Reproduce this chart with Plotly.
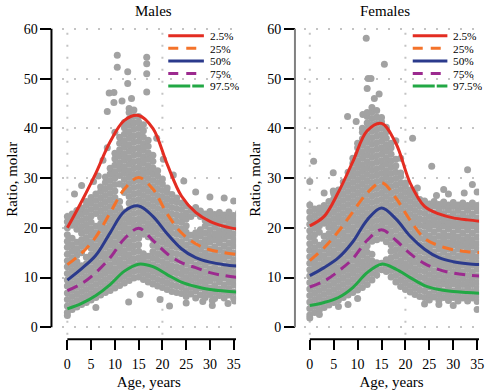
import plotly.graph_objects as go

# ---------------- data ----------------
curve_ages = [0, 3, 6, 9, 12, 15, 18, 21, 24, 27, 30, 33, 36]
series_names = ["2.5%", "25%", "50%", "75%", "97.5%"]
series_colors = ["#e32d22", "#f4732a", "#2b3a8c", "#9c2a8f", "#22a845"]
series_dash = ["solid", "11px,7px", "solid", "11px,7px", "solid"]
legend_dash = ["solid", "10px,8px", "solid", "10px,8px", "22px,2px"]

male_p025 = [20.0, 25.3, 31.0, 37.3, 41.6, 42.6, 40.0, 32.8, 26.4, 23.1, 21.3, 20.3, 19.7]
male_p25 = [12.6, 14.9, 18.2, 23.0, 27.8, 30.1, 27.8, 22.8, 19.0, 16.8, 15.6, 15.0, 14.6]
male_p50 = [9.5, 11.8, 14.5, 19.0, 23.3, 24.4, 22.3, 18.8, 15.8, 14.0, 13.1, 12.6, 12.3]
male_p75 = [7.4, 8.8, 11.0, 14.0, 17.8, 19.9, 17.5, 14.8, 13.0, 12.0, 11.0, 10.4, 10.0]
male_p975 = [3.7, 4.8, 6.4, 8.6, 11.3, 12.7, 12.2, 10.6, 9.1, 8.2, 7.6, 7.3, 7.1]

female_p025 = [20.4, 22.3, 27.2, 33.3, 39.5, 41.0, 37.0, 29.0, 24.3, 22.8, 22.0, 21.6, 21.3]
female_p25 = [13.4, 16.0, 19.3, 23.2, 27.0, 29.1, 26.0, 21.5, 17.9, 16.4, 15.6, 15.2, 15.0]
female_p50 = [10.4, 12.0, 14.0, 17.2, 21.6, 24.0, 21.8, 18.3, 15.7, 14.0, 13.2, 12.8, 12.6]
female_p75 = [8.1, 9.3, 11.3, 13.8, 17.5, 19.6, 17.5, 14.8, 12.8, 11.6, 10.9, 10.5, 10.3]
female_p975 = [4.4, 5.0, 6.0, 8.0, 11.0, 12.7, 11.7, 10.0, 8.4, 7.6, 7.2, 7.0, 6.8]

# scatter: observations grouped by age (years)
scatter_ages = list(range(0, 37))
male_obs = [
    [3.0, 4.3, 5.6, 6.9, 8.3, 9.5, 10.8, 12.2, 13.4, 14.7, 16.1, 17.3, 18.6, 20.0, 21.2, 22.3],
    [3.6, 4.9, 6.2, 7.5, 8.8, 10.1, 11.4, 12.7, 14.0, 15.3, 16.6, 17.9, 20.5, 21.8, 22.8],
    [4.1, 5.4, 6.7, 8.0, 9.3, 10.6, 11.9, 13.2, 14.5, 15.8, 17.1, 19.7, 21.0, 22.3, 23.5],
    [4.6, 5.9, 7.2, 8.5, 9.8, 11.1, 12.4, 15.0, 16.3, 17.6, 18.9, 20.2, 21.5, 22.8, 24.0],
    [5.0, 6.3, 7.6, 8.9, 10.2, 11.5, 12.8, 14.1, 16.7, 18.0, 19.3, 20.6, 21.9, 23.2, 24.5, 25.3],
    [5.5, 6.8, 8.1, 9.4, 10.7, 12.0, 13.3, 14.6, 15.9, 17.2, 18.5, 19.8, 21.1, 22.4, 23.7, 25.0, 26.1],
    [6.0, 7.3, 8.6, 9.9, 11.2, 12.5, 13.8, 15.1, 16.4, 17.7, 19.0, 20.3, 22.9, 24.2, 25.5, 26.8],
    [6.5, 7.8, 9.1, 10.4, 11.7, 13.0, 14.3, 15.6, 16.9, 18.2, 19.5, 20.8, 22.1, 23.4, 24.7, 26.0, 27.3, 28.2],
    [7.0, 8.3, 9.6, 10.9, 12.2, 13.5, 14.8, 16.1, 17.4, 18.7, 20.0, 21.3, 22.6, 23.9, 25.2, 26.5, 27.8, 29.1, 30.2],
    [7.4, 8.7, 10.0, 11.3, 12.6, 13.9, 15.2, 16.5, 17.8, 19.1, 20.4, 21.7, 23.0, 24.3, 25.6, 26.9, 28.2, 29.5, 30.8, 32.0],
    [7.9, 9.2, 10.5, 11.8, 13.1, 14.4, 15.7, 17.0, 18.3, 19.6, 20.9, 22.2, 23.5, 24.8, 26.1, 27.4, 28.7, 30.0, 31.3, 32.6, 33.9, 35.0],
    [8.4, 9.7, 11.0, 12.3, 13.6, 14.9, 16.2, 17.5, 18.8, 20.1, 21.4, 22.7, 24.0, 25.3, 28.8, 30.5, 31.8, 33.1, 34.4, 35.7, 37.0, 38.2],
    [8.9, 10.2, 11.5, 12.8, 14.1, 15.4, 16.7, 18.0, 19.3, 20.6, 21.9, 23.2, 27.1, 28.4, 29.7, 31.0, 32.3, 33.6, 34.9, 36.2, 37.5, 38.8, 40.1, 41.2],
    [9.4, 10.7, 12.0, 13.3, 14.6, 15.9, 17.2, 18.5, 19.8, 21.1, 22.4, 23.7, 25.0, 26.3, 27.6, 28.9, 30.2, 31.5, 32.8, 34.1, 35.4, 36.7, 38.0, 39.3, 40.6, 41.9, 43.2, 44.0],
    [9.9, 11.2, 12.5, 13.8, 15.1, 16.4, 17.7, 19.0, 20.3, 21.6, 22.9, 24.2, 25.5, 26.8, 28.1, 29.4, 30.7, 32.0, 33.3, 34.6, 35.9, 37.2, 38.5, 39.8, 41.1, 42.4, 43.7],
    [10.1, 11.4, 12.7, 14.0, 15.3, 16.6, 17.9, 19.2, 20.5, 21.8, 23.1, 24.4, 25.7, 27.0, 28.3, 29.6, 30.9, 32.2, 33.5, 34.8, 36.1, 37.4, 38.7, 40.0, 41.3, 42.4],
    [9.6, 10.9, 12.2, 13.5, 14.8, 18.7, 20.0, 21.3, 22.6, 23.9, 25.2, 26.5, 27.8, 29.1, 30.4, 31.7, 33.0, 34.3, 35.6, 36.9, 38.2, 39.5, 40.7],
    [9.1, 10.4, 11.7, 13.0, 14.3, 18.2, 19.5, 20.8, 22.1, 23.4, 24.7, 26.0, 27.3, 28.6, 29.9, 31.2, 32.5, 33.8, 35.1, 36.4, 37.6],
    [8.7, 10.0, 11.3, 12.6, 13.9, 15.2, 16.5, 17.8, 19.1, 20.4, 21.7, 23.0, 24.3, 25.6, 26.9, 28.2, 29.5, 30.8, 32.1, 33.4, 34.6],
    [8.3, 9.6, 10.9, 12.2, 13.5, 14.8, 16.1, 17.4, 18.7, 20.0, 21.3, 22.6, 23.9, 25.2, 26.5, 27.8, 29.1, 30.4, 31.5],
    [8.0, 9.3, 10.6, 11.9, 13.2, 14.5, 15.8, 17.1, 18.4, 19.7, 21.0, 22.3, 23.6, 24.9, 26.2, 27.5, 28.8, 29.8],
    [7.6, 8.9, 10.2, 11.5, 12.8, 14.1, 15.4, 16.7, 18.0, 19.3, 20.6, 21.9, 23.2, 24.5, 25.8, 27.1, 28.0],
    [7.2, 8.5, 9.8, 11.1, 12.4, 13.7, 15.0, 16.3, 17.6, 18.9, 20.2, 21.5, 22.8, 24.1, 25.4, 26.7],
    [7.0, 8.3, 9.6, 10.9, 12.2, 13.5, 14.8, 16.1, 17.4, 18.7, 20.0, 21.3, 22.6, 23.9, 25.2, 26.0],
    [6.8, 8.1, 9.4, 10.7, 12.0, 13.3, 14.6, 15.9, 17.2, 18.5, 19.8, 21.1, 22.4, 23.7, 25.0],
    [6.2, 7.4, 8.8, 10.0, 11.3, 12.7, 13.9, 15.2, 16.5, 17.9, 19.1, 20.4, 21.8, 23.0, 24.4],
    [6.7, 8.0, 9.4, 10.6, 11.9, 13.3, 14.5, 15.8, 17.1, 18.5, 22.3, 23.6],
    [5.9, 7.3, 8.6, 9.9, 11.2, 12.5, 13.9, 15.1, 16.4, 17.8, 19.0, 22.9, 24.1],
    [6.5, 7.9, 9.2, 10.5, 11.8, 13.1, 14.4, 15.7, 17.0, 18.4, 19.6, 22.3, 23.4],
    [6.0, 7.2, 8.6, 9.8, 11.1, 12.5, 13.7, 15.0, 16.4, 17.6, 18.9, 20.3, 21.5, 22.8],
    [6.6, 7.9, 9.3, 10.5, 11.8, 13.2, 14.4, 15.7, 17.1, 18.3, 19.6, 21.0, 22.2, 23.3],
    [5.8, 7.1, 8.4, 9.8, 11.0, 12.3, 13.7, 14.9, 16.2, 17.6, 18.8, 20.1, 21.5, 22.7],
    [6.4, 7.7, 9.1, 10.3, 11.6, 13.0, 14.2, 15.5, 16.9, 18.1, 19.4, 20.8, 22.0, 23.1],
    [5.9, 7.2, 8.5, 9.9, 11.1, 12.4, 13.8, 15.0, 16.3, 17.7, 18.9, 20.2, 21.6, 22.6],
    [6.5, 7.8, 9.1, 10.4, 11.7, 13.0, 14.4, 15.6, 16.9, 18.3, 19.5, 20.8, 22.1, 23.2],
    [5.8, 7.1, 8.5, 9.7, 11.0, 12.4, 13.6, 14.9, 16.3, 17.5, 18.8, 20.2, 21.4, 22.5],
    [6.3, 7.6, 8.9, 10.2, 11.5, 12.8, 14.1, 15.4, 16.7, 18.0, 19.3, 20.6, 21.9, 23.0],
]
male_extra_age = [0.0, 1.5, 3.0, 5.5, 6.5, 7.5, 8.4, 8.8, 9.8, 9.8, 8.4, 10.5, 10.5, 12.7, 12.7,
                  16.7, 16.7, 16.7, 16.7, 12.9, 15.3, 18.8, 20.2, 22.3, 24.5, 27.0, 33.0, 35.0,
                  30.0, 28.5, 30.5, 30.5, 33.8, 35.2, 21.5, 25.0, 19.5, 11.5, 13.5, 6.0, 10.0]
male_extra_val = [2.4, 26.8, 28.5, 29.3, 30.4, 33.6, 36.1, 47.1, 47.2, 45.2, 43.4, 54.7, 52.3, 51.4, 49.0,
                  54.3, 53.0, 51.0, 47.3, 5.1, 6.6, 38.0, 33.8, 30.6, 29.4, 27.2, 26.0, 25.4,
                  26.2, 5.2, 5.4, 4.4, 4.8, 5.3, 4.3, 4.9, 5.6, 45.5, 46.0, 4.0, 39.2]

female_obs = [
    [2.5, 3.8, 5.1, 6.4, 7.7, 9.0, 10.3, 11.6, 12.9, 14.2, 15.5, 16.8, 18.1, 19.4, 20.7, 22.0, 23.3, 24.6],
    [3.0, 4.3, 5.6, 6.9, 8.2, 9.5, 10.8, 12.1, 13.4, 14.7, 16.0, 17.3, 18.6, 19.9, 21.2, 22.5, 23.8],
    [3.5, 4.8, 6.1, 7.4, 8.7, 10.0, 11.3, 12.6, 13.9, 15.2, 16.5, 19.1, 20.4, 21.7, 23.0, 24.0],
    [4.0, 5.3, 6.6, 7.9, 9.2, 10.5, 11.8, 13.1, 14.4, 15.7, 17.0, 18.3, 20.9, 22.2, 23.5, 24.5],
    [4.5, 5.8, 7.1, 8.4, 9.7, 11.0, 12.3, 13.6, 14.9, 16.2, 17.5, 18.8, 20.1, 21.4, 22.7, 24.0, 25.3],
    [5.0, 6.3, 7.6, 8.9, 10.2, 11.5, 12.8, 14.1, 15.4, 16.7, 18.0, 19.3, 20.6, 21.9, 23.2, 24.5, 25.8, 26.9],
    [5.5, 6.8, 8.1, 9.4, 10.7, 12.0, 13.3, 14.6, 15.9, 17.2, 18.5, 19.8, 21.1, 22.4, 23.7, 25.0, 26.3, 27.6],
    [6.0, 7.3, 8.6, 9.9, 11.2, 12.5, 13.8, 15.1, 16.4, 17.7, 19.0, 20.3, 21.6, 22.9, 24.2, 25.5, 26.8, 28.1, 29.2],
    [6.5, 7.8, 9.1, 10.4, 11.7, 13.0, 14.3, 15.6, 16.9, 18.2, 19.5, 20.8, 22.1, 23.4, 24.7, 26.0, 27.3, 28.6, 29.9, 31.2],
    [7.0, 8.3, 9.6, 10.9, 12.2, 13.5, 14.8, 16.1, 17.4, 18.7, 20.0, 21.3, 22.6, 23.9, 25.2, 26.5, 27.8, 29.1, 30.4, 31.7, 33.0, 34.0],
    [7.5, 8.8, 10.1, 11.4, 12.7, 14.0, 15.3, 16.6, 17.9, 19.2, 20.5, 21.8, 23.1, 24.4, 25.7, 27.0, 28.3, 29.6, 30.9, 32.2, 33.5, 34.8, 36.1, 37.0],
    [8.0, 9.3, 10.6, 11.9, 13.2, 14.5, 15.8, 17.1, 18.4, 19.7, 21.0, 22.3, 23.6, 24.9, 26.2, 27.5, 28.8, 30.1, 31.4, 32.7, 34.0, 35.3, 36.6, 37.9, 39.2, 40.0],
    [8.6, 9.9, 11.2, 12.5, 13.8, 15.1, 16.4, 17.7, 19.0, 20.3, 21.6, 22.9, 24.2, 25.5, 26.8, 28.1, 29.4, 30.7, 32.0, 33.3, 34.6, 35.9, 37.2, 38.5, 39.8, 41.1, 42.4, 43.2],
    [9.5, 10.8, 12.1, 13.4, 14.7, 17.3, 18.6, 19.9, 21.2, 22.5, 23.8, 25.1, 26.4, 27.7, 29.0, 30.3, 31.6, 32.9, 34.2, 35.5, 36.8, 38.1, 39.4, 40.7, 42.0, 43.3, 44.2],
    [10.5, 11.8, 13.0, 17.6, 18.9, 20.2, 21.5, 22.8, 24.1, 25.4, 26.7, 28.0, 29.3, 30.6, 31.9, 33.2, 34.5, 35.8, 37.1, 38.4, 39.7, 41.0, 42.3, 43.6],
    [11.6, 12.9, 17.9, 19.2, 20.5, 21.8, 23.1, 24.4, 25.7, 27.0, 28.3, 29.6, 30.9, 32.2, 33.5, 34.8, 36.1, 37.4, 38.7, 40.0, 41.3, 42.2],
    [11.2, 12.5, 13.6, 17.2, 18.5, 19.8, 21.1, 22.4, 23.7, 25.0, 26.3, 27.6, 28.9, 30.2, 31.5, 32.8, 34.1, 35.4, 36.7, 38.0, 39.3, 40.2],
    [10.1, 11.4, 12.7, 14.0, 15.3, 16.6, 17.9, 19.2, 20.5, 21.8, 23.1, 24.4, 25.7, 27.0, 28.3, 29.6, 30.9, 32.2, 33.5, 34.8, 36.1, 37.0],
    [9.1, 10.4, 11.7, 13.0, 14.3, 15.6, 16.9, 18.2, 19.5, 20.8, 22.1, 23.4, 24.7, 26.0, 27.3, 28.6, 29.9, 31.2, 32.5, 33.8],
    [8.2, 9.5, 10.8, 12.1, 13.4, 14.7, 16.0, 17.3, 18.6, 19.9, 21.2, 22.5, 23.8, 25.1, 26.4, 27.7, 29.0, 30.3, 31.0],
    [7.6, 8.9, 10.2, 11.5, 12.8, 14.1, 15.4, 16.7, 18.0, 19.3, 20.6, 21.9, 23.2, 24.5, 25.8, 27.1, 28.4, 29.0],
    [7.1, 8.4, 9.7, 11.0, 12.3, 13.6, 14.9, 16.2, 17.5, 18.8, 20.1, 21.4, 22.7, 24.0, 25.3, 26.6, 27.6],
    [6.6, 7.9, 9.2, 10.5, 11.8, 13.1, 14.4, 15.7, 17.0, 18.3, 19.6, 20.9, 22.2, 23.5, 24.8, 26.1, 26.8],
    [6.2, 7.5, 8.8, 10.1, 11.4, 12.7, 14.0, 15.3, 16.6, 17.9, 19.2, 20.5, 21.8, 23.1, 24.4, 25.7],
    [6.0, 7.3, 8.6, 9.9, 11.2, 12.5, 13.8, 15.1, 16.4, 17.7, 19.0, 20.3, 21.6, 22.9, 24.2, 25.4],
    [5.5, 6.7, 8.1, 9.3, 10.6, 12.0, 13.2, 14.5, 15.9, 17.1, 18.4, 19.8, 21.0, 22.3, 23.7, 24.8],
    [6.1, 7.4, 8.8, 10.0, 11.3, 12.7, 13.9, 15.2, 16.6, 17.8, 19.1, 20.5, 21.7, 23.0, 24.4, 25.3],
    [5.4, 6.6, 8.0, 9.2, 10.5, 11.9, 13.1, 14.4, 15.8, 17.0, 18.3, 19.7, 20.9, 22.2, 23.6, 24.7],
    [6.0, 7.3, 8.7, 9.9, 11.2, 12.6, 13.8, 15.1, 16.5, 17.7, 19.0, 20.4, 21.6, 22.9, 24.3, 25.2],
    [5.4, 6.6, 8.0, 9.2, 10.5, 11.9, 13.1, 14.4, 15.8, 17.0, 18.3, 19.7, 20.9, 22.2, 23.6, 24.6],
    [6.0, 7.3, 8.7, 9.9, 11.2, 12.6, 13.8, 15.1, 16.5, 17.7, 19.0, 20.4, 21.6, 22.9, 24.3, 25.1],
    [5.3, 6.5, 7.9, 9.1, 10.4, 11.8, 13.0, 14.3, 15.7, 16.9, 18.2, 19.6, 20.8, 22.1, 23.5, 24.6],
    [5.9, 7.2, 8.6, 9.8, 11.1, 12.5, 13.7, 15.0, 16.4, 17.6, 18.9, 20.3, 21.5, 22.8, 24.2, 25.0],
    [5.3, 6.5, 7.9, 9.1, 10.4, 11.8, 13.0, 14.3, 15.7, 16.9, 18.2, 19.6, 20.8, 22.1, 23.5, 24.5],
    [5.9, 7.2, 8.6, 9.8, 11.1, 12.5, 13.7, 15.0, 16.4, 17.6, 18.9, 20.3, 21.5, 22.8, 24.2, 25.0],
    [5.2, 6.4, 7.8, 9.0, 10.3, 11.7, 12.9, 14.2, 15.6, 16.8, 18.1, 19.5, 20.7, 22.0, 23.4, 24.5],
    [5.8, 7.1, 8.5, 9.7, 11.0, 12.4, 13.6, 14.9, 16.3, 17.5, 18.8, 20.2, 21.4, 22.7, 24.1, 25.0],
]
female_extra_age = [0.0, 0.8, 4.9, 4.9, 3.0, 7.9, 9.7, 11.1, 11.8, 15.6, 12.2, 12.8, 12.0, 14.5, 13.5,
                    21.5, 25.5, 33.0, 34.0, 35.0, 28.0, 29.0, 19.0, 18.0, 0.0, 6.0, 8.0, 10.0, 24.0,
                    30.0, 35.0, 32.3, 28.0, 26.5, 22.5, 2.0, 27.0]
female_extra_val = [29.3, 33.4, 27.4, 31.1, 27.0, 42.4, 41.4, 42.8, 58.1, 52.9, 50.0, 50.0, 48.0, 46.9, 46.0,
                    38.0, 32.4, 31.7, 28.7, 27.2, 27.7, 26.8, 34.0, 37.5, 1.9, 4.2, 4.6, 5.8, 4.7,
                    4.4, 3.6, 27.0, 25.0, 26.5, 28.0, 2.6, 4.6]

age_ticks = [0, 5, 10, 15, 20, 25, 30, 35]
ratio_ticks = [0, 10, 20, 30, 40, 50, 60]
vgrid_ages = [0, 20]

# ---------------- figure ----------------
W, H = 489, 391
FONT = "Liberation Serif"


def px2x(px):
    return px / W


def py2y(py):
    return 1 - py / H


fig = go.Figure()

panels = [
    dict(name="Males", xa="x", ya="y", obs=male_obs, ex_a=male_extra_age, ex_v=male_extra_val,
         curves=[male_p025, male_p25, male_p50, male_p75, male_p975]),
    dict(name="Females", xa="x2", ya="y2", obs=female_obs, ex_a=female_extra_age, ex_v=female_extra_val,
         curves=[female_p025, female_p25, female_p50, female_p75, female_p975]),
]

for p in panels:
    xs = [a for a, col in zip(scatter_ages, p["obs"]) for _ in col] + p["ex_a"]
    ys = [v for col in p["obs"] for v in col] + p["ex_v"]
    fig.add_trace(go.Scatter(x=xs, y=ys, mode="markers", xaxis=p["xa"], yaxis=p["ya"],
                             marker=dict(size=7, color="#a2a2a2", line=dict(width=0)),
                             showlegend=False, hoverinfo="skip"))
    for name, vals, col, dash in zip(series_names, p["curves"], series_colors, series_dash):
        fig.add_trace(go.Scatter(x=curve_ages, y=vals, mode="lines", xaxis=p["xa"], yaxis=p["ya"],
                                 name=name, line=dict(color=col, width=3, dash=dash, shape="spline"),
                                 showlegend=False))

x_dom_m = [px2x(62.3), px2x(238.5)]
x_dom_f = [px2x(307.2), px2x(484.0)]
y_dom = [py2y(334.5), py2y(22)]
xaxis_pos = py2y(339)
yaxis_pos_m = px2x(52)
yaxis_pos_f = px2x(298)

tickfont = dict(family=FONT, size=14, color="black")
titlefont = dict(family=FONT, size=15, color="black")


def xaxis_cfg(dom, rng):
    return dict(domain=dom, range=rng, anchor="free", position=xaxis_pos,
                tickvals=age_ticks, ticks="outside", ticklen=10, tickwidth=2, tickcolor="black",
                ticklabelstandoff=2,
                showline=False, showgrid=False, zeroline=False, tickfont=tickfont,
                title=dict(text="Age, years", font=titlefont, standoff=5))


def yaxis_cfg(pos):
    return dict(domain=y_dom, range=[-1.5, 61], anchor="free", position=pos,
                tickvals=ratio_ticks, ticks="outside", ticklen=11, tickwidth=2, tickcolor="black",
                showline=False, showgrid=True, gridcolor="#c4c4c4", gridwidth=2, griddash="2px,10px",
                zeroline=False, tickfont=tickfont,
                title=dict(text="Ratio, molar", font=titlefont, standoff=1))


fig.update_layout(
    width=W, height=H, margin=dict(l=0, r=0, t=0, b=0),
    paper_bgcolor="white", plot_bgcolor="white", showlegend=False,
    font=dict(family=FONT, color="black"),
    xaxis=xaxis_cfg(x_dom_m, [-1.2, 35.5]),
    xaxis2=xaxis_cfg(x_dom_f, [-1.2, 35.4]),
    yaxis=yaxis_cfg(yaxis_pos_m),
    yaxis2=yaxis_cfg(yaxis_pos_f),
)

shapes = []
annotations = []
axis_specs = [("x", "y", yaxis_pos_m, "black", 35.5), ("x2", "y2", yaxis_pos_f, "#808080", 35.4)]
for xa, ya, ypos, ycol, xend in axis_specs:
    shapes.append(dict(type="line", xref="paper", yref=ya, x0=ypos, x1=ypos,
                       y0=ratio_ticks[0], y1=ratio_ticks[-1], line=dict(color=ycol, width=2)))
    shapes.append(dict(type="line", xref=xa, yref="paper", x0=age_ticks[0], x1=xend,
                       y0=xaxis_pos, y1=xaxis_pos, line=dict(color="black", width=2)))
    for g in vgrid_ages:
        shapes.append(dict(type="line", xref=xa, yref=ya + " domain", x0=g, x1=g, y0=0, y1=1,
                           layer="below", line=dict(color="#c4c4c4", width=2, dash="2px,10px")))

# compact legends (one per panel)
legend_rows_px = [34, 46.6, 59.2, 71.8, 84.4]
legend_boxes = [(170, 206, 211), (417, 452, 457)]
for (lx0, lx1, tx) in legend_boxes:
    for name, col, dash, ry in zip(series_names, series_colors, legend_dash, legend_rows_px):
        yy = py2y(ry)
        shapes.append(dict(type="line", xref="paper", yref="paper", x0=px2x(lx0), x1=px2x(lx1),
                           y0=yy, y1=yy, line=dict(color=col, width=3, dash=dash)))
        annotations.append(dict(text=name, xref="paper", yref="paper", x=px2x(tx), y=yy,
                                xanchor="left", yanchor="middle", showarrow=False,
                                height=11, borderpad=0,
                                font=dict(family=FONT, size=11.3, color="black")))

for title, cx in [("Males", 155), ("Females", 389)]:
    annotations.append(dict(text=title, xref="paper", yref="paper", x=px2x(cx), y=py2y(9),
                            xanchor="center", yanchor="middle", showarrow=False,
                            font=dict(family=FONT, size=15, color="black")))

fig.update_layout(shapes=shapes, annotations=annotations)
fig.write_html(
    "out.html",
    config={"displayModeBar": False},
    post_script="document.body.style.margin='0';document.documentElement.style.overflow='hidden';",
)
